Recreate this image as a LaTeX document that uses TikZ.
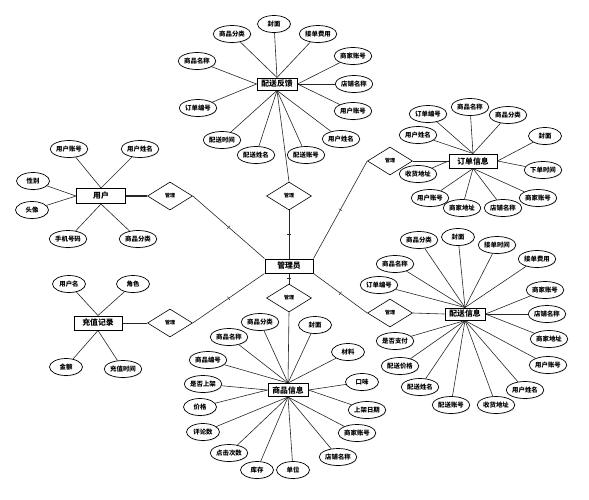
\documentclass[tikz,border=0pt]{standalone}
\usepackage{fontspec}
\newfontfamily\cjk{Noto Sans CJK SC}
\usetikzlibrary{shapes.geometric,shadows,decorations.markings}
\pgfdeclarelayer{bg}
\pgfsetlayers{bg,main}
\tikzset{
  attr/.style={ellipse, draw, line width=0.7pt, fill=white, minimum width=33pt,
    minimum height=17pt, inner sep=0.5pt, font=\cjk\bfseries\fontsize{6.4}{7}\selectfont,
    drop shadow={shadow xshift=0.5pt, shadow yshift=-0.8pt, fill=black!25}},
  ent/.style={rectangle, draw, line width=1pt, fill=white, minimum height=14pt,
    inner sep=1pt, font=\cjk\bfseries\fontsize{7.8}{9}\selectfont,
    drop shadow={shadow xshift=0.6pt, shadow yshift=-0.6pt, fill=black!30}},
  rel/.style={diamond, draw, line width=0.6pt, fill=white, minimum width=45pt,
    minimum height=28pt, aspect=1.6, inner sep=0pt, font=\cjk\bfseries\fontsize{5}{6}\selectfont},
  link/.style={line width=0.6pt, black!85},
  tickmid/.style={postaction={decorate, decoration={markings,
    mark=at position 0.5 with {\draw[line width=0.5pt] (0pt,-2pt) -- (0pt,2pt);}}}}
}
\begin{document}
\begin{tikzpicture}[x=1pt,y=-1pt]
\useasboundingbox (0,0) rectangle (589,499);
% entities
\node[ent, minimum width=48pt] (mgr) at (289,266) {管理员};
\node[ent, minimum width=40pt, minimum height=12pt] (fb) at (277,84) {配送反馈};
\node[ent, minimum width=48pt] (ord) at (473,161) {订单信息};
\node[ent, minimum width=49pt, minimum height=15pt] (usr) at (101,196) {用户};
\node[ent, minimum width=48pt] (chg) at (98,323) {充值记录};
\node[ent, minimum width=40pt, minimum height=12pt] (dlv) at (465,314) {配送信息};
\node[ent, minimum width=40pt, minimum height=13pt] (gds) at (288,390) {商品信息};
% relations
\node[rel] (rF) at (289,196) {管理};
\node[rel] (rU) at (170,196) {管理};
\node[rel] (rC) at (170,323) {管理};
\node[rel] (rO) at (390,161) {管理};
\node[rel] (rD) at (390,313) {管理};
\node[rel] (rG) at (289,298) {管理};
% attributes
\foreach \n/\x/\y/\t/\a in {
  f1/274/24/封面/north, f2/232/34/商品分类/north, f3/318/34/接单费用/north,
  f4/197/61/商品名称/west, f5/353/56/商家账号/east, f6/354/84/店铺名称/east,
  f7/353/111/用户账号/east, f8/198/108/订单编号/west, f9/341/139/用户姓名/south,
  f10/222/140/配送时间/south, f11/256/155/配送姓名/south, f12/306/155/配送账号/south}
{ \node[attr] (\n) at (\x,\y) {\t};
  \begin{pgfonlayer}{bg}\draw[link] (fb.\a) -- (\n);\end{pgfonlayer} }
\foreach \n/\x/\y/\t/\a in {
  o1/428/114/订单编号/north, o2/470/107/商品名称/north, o3/508/115/商品分类/north,
  o4/418/135/用户姓名/north, o5/545/136/封面/east, o6/543/170/下单时间/east,
  o7/418/174/收货地址/west, o8/430/198/用户账号/south, o9/462/208/商家地址/south,
  o10/503/208/店铺名称/south, o11/538/198/商家账号/south}
{ \node[attr] (\n) at (\x,\y) {\t};
  \begin{pgfonlayer}{bg}\draw[link] (ord.\a) -- (\n);\end{pgfonlayer} }
\foreach \n/\x/\y/\t/\a in {
  u1/69/149/用户账号/north, u2/140/149/用户姓名/north, u3/33/181/性别/west,
  u4/32/210/头像/west, u5/68/239/手机号码/south, u6/138/239/商品分类/south}
{ \node[attr] (\n) at (\x,\y) {\t};
  \begin{pgfonlayer}{bg}\draw[link] (usr.\a) -- (\n);\end{pgfonlayer} }
\foreach \n/\x/\y/\t/\a in {
  c1/69/284/用户名/north, c2/133/284/角色/north, c3/66/367/金额/south,
  c4/123/369/充值时间/south}
{ \node[attr] (\n) at (\x,\y) {\t};
  \begin{pgfonlayer}{bg}\draw[link] (chg.\a) -- (\n);\end{pgfonlayer} }
\foreach \n/\x/\y/\t/\a in {
  d1/419/240/商品分类/north, d2/458/237/封面/north, d3/497/245/接单时间/north,
  d4/537/259/接单费用/north, d5/395/264/商品名称/north, d6/379/285/订单编号/north,
  d7/545/290/商家账号/east, d8/547/314/店铺名称/east, d9/549/339/商家地址/east,
  d10/395/341/是否支付/south, d11/400/366/配送价格/south, d12/420/387/配送姓名/south,
  d13/451/405/配送账号/south, d14/496/405/收货地址/south, d15/525/390/用户姓名/south,
  d16/548/365/用户账号/south}
{ \node[attr] (\n) at (\x,\y) {\t};
  \begin{pgfonlayer}{bg}\draw[link] (dlv.\a) -- (\n);\end{pgfonlayer} }
\foreach \n/\x/\y/\t/\a in {
  g1/260/322/商品分类/north, g2/315/325/封面/north, g3/229/337/商品名称/north,
  g4/348/352/材料/north, g5/208/360/商品编号/north, g6/362/382/口味/east,
  g7/203/384/是否上架/west, g8/200/407/价格/west, g9/367/410/上架日期/east,
  g10/203/432/评论数/south, g11/357/433/商家账号/south, g12/229/453/点击次数/south,
  g13/338/457/店铺名称/south, g14/257/470/库存/south, g15/293/470/单位/south}
{ \node[attr] (\n) at (\x,\y) {\t};
  \begin{pgfonlayer}{bg}\draw[link] (gds.\a) -- (\n);\end{pgfonlayer} }
% relationship lines
\begin{pgfonlayer}{bg}
\draw[link, line width=1.3pt] (usr.east) -- (rU.west);
\draw[link] (chg.east) -- (rC.west);
\draw[link] (fb.south) -- (rF.north);
\draw[link] (rO.east) -- (ord.west);
\draw[link] (rD.east) -- (dlv.west);
\draw[link] (rG.south) -- (gds.north);
\draw[link, tickmid] (rF.south) -- (mgr.north);
\draw[link, tickmid] (rG.north) -- (mgr.south);
\draw[link, tickmid] (rU.east) -- (mgr.north west);
\draw[link, tickmid] (rC.east) -- (mgr.south west);
\draw[link, tickmid] (rO.west) -- (mgr.north east);
\draw[link, tickmid] (rD.west) -- (mgr.south east);
\end{pgfonlayer}
\end{tikzpicture}
\end{document}
